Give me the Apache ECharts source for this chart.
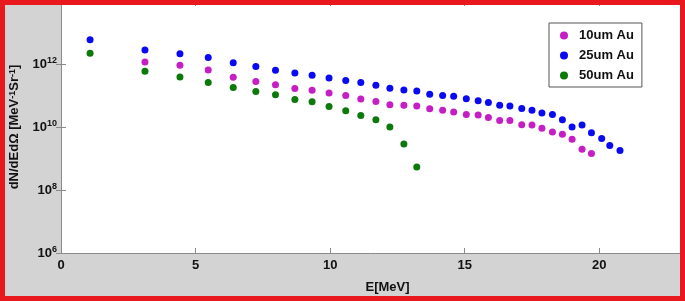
<!DOCTYPE html>
<html>
<head>
<meta charset="utf-8">
<script src="https://cdn.jsdelivr.net/npm/echarts@6/dist/echarts.min.js"></script>
<style>
    html,body{margin:0;padding:0;background:#d3d3d3;}
    .wrap{position:relative;width:685px;height:301px;}
    #chart{position:absolute;left:0;top:0;width:685px;height:301px;}
    .frame{position:absolute;left:0;top:0;width:685px;height:301px;box-sizing:border-box;border:5px solid #e8181e;pointer-events:none;}
</style>
</head>
<body>
<div class="wrap">
    <div id="chart"></div>
    <div class="frame"></div>
</div>
<script>
    // energy bins (MeV) shared by all three targets
    const energy = [1.08,3.12,4.42,5.47,6.40,7.24,7.97,8.69,9.33,9.96,10.58,11.14,11.70,12.22,12.74,13.22,
        13.70,14.18,14.59,15.06,15.50,15.88,16.30,16.68,17.12,17.50,17.87,18.26,18.63,18.99,19.36,19.71,
        20.09,20.39,20.77]
    const au10 = [null,1.15e12,9.1e11,6.5e11,3.8e11,2.8e11,2.2e11,1.66e11,1.48e11,1.2e11,1.0e11,7.8e10,6.5e10,5.1e10,4.9e10,4.6e10,
        3.8e10,3.4e10,3.0e10,2.5e10,2.4e10,2.0e10,1.6e10,1.6e10,1.17e10,1.15e10,9.1e9,6.9e9,5.9e9,4.1e9,1.95e9,1.45e9]
    const au25 = [5.9e12,2.8e12,2.1e12,1.6e12,1.1e12,8.3e11,6.3e11,5.2e11,4.4e11,3.6e11,3.0e11,2.6e11,2.1e11,1.7e11,1.5e11,1.4e11,
        1.1e11,1.0e11,9.5e10,7.9e10,6.8e10,6.0e10,4.9e10,4.6e10,3.9e10,3.4e10,2.8e10,2.5e10,1.7e10,1.0e10,1.15e10,6.6e9,
        4.3e9,2.6e9,1.8e9]
    const au50 = [2.2e12,5.9e11,3.9e11,2.6e11,1.8e11,1.35e11,1.05e11,7.4e10,6.3e10,4.5e10,3.3e10,2.3e10,1.7e10,1.0e10,2.9e9,5.4e8]
    const names = ['10um Au','25um Au','50um Au']
    const colors = ['#c41ec4','#0a0af2','#0b7a0b']
    const xTicks = [0,5,10,15,20]

    function pairs(vals){
        const out = []
        vals.forEach((v,i) => { if(v != null) out.push([energy[i],v]) })
        return out
    }

    const font = 'Liberation Sans, Arial, sans-serif'
    const axisColor = '#8a8a8a'
    const labelRich = {
        b:{fontSize:13,fontWeight:'bold',fontFamily:font,color:'#111',lineHeight:15},
        s:{fontSize:9,fontWeight:'bold',fontFamily:font,color:'#111',verticalAlign:'top',lineHeight:6}
    }
    function yLabel(v){
        const e = Math.round(Math.log10(v))
        if(e >= 14) return ''
        return '{b|10}{s|' + e + '}'
    }

    const chartInstance = echarts.init(document.getElementById('chart'))
    const option = {
        animation:false,
        backgroundColor:'#d3d3d3',
        grid:{
            left:61,
            right:5,
            top:1,
            bottom:48,
            show:true,
            backgroundColor:'#fff',
            borderWidth:0
        },
        legend:{
            orient:'vertical',
            left:549,
            top:23,
            width:93,
            backgroundColor:'#fff',
            borderColor:'#555',
            borderWidth:1,
            borderRadius:0,
            padding:[6,8,5,11],
            itemGap:7,
            itemWidth:14,
            itemHeight:8,
            icon:'circle',
            data:names,
            textStyle:{fontFamily:font,fontSize:13,fontWeight:'bold',color:'#111',padding:[0,0,0,3]}
        },
        xAxis:[
            {
                type:'value',
                min:0,
                max:23,
                interval:5,
                name:'E[MeV]',
                nameLocation:'middle',
                nameGap:28,
                nameTextStyle:{fontFamily:font,fontSize:13,fontWeight:'bold',color:'#111',padding:[0,0,0,34]},
                axisLine:{show:true,lineStyle:{color:axisColor}},
                axisTick:{show:true,inside:true,length:5,lineStyle:{color:axisColor}},
                splitLine:{show:false},
                axisLabel:{
                    margin:6,
                    fontFamily:font,fontSize:13,fontWeight:'bold',color:'#111',
                    formatter:(v) => xTicks.includes(v) ? String(v) : ''
                }
            },
            {
                type:'value',
                position:'top',
                min:0,
                max:23,
                interval:5,
                axisLine:{show:true,lineStyle:{color:axisColor}},
                axisTick:{show:true,inside:true,length:5,lineStyle:{color:axisColor}},
                splitLine:{show:false},
                axisLabel:{show:false}
            }
        ],
        yAxis:[
            {
                type:'log',
                logBase:100,
                min:1e6,
                max:1e14,
                name:'dN/dEdΩ [MeV{s|-1}Sr{s|-1}]',
                nameLocation:'middle',
                nameGap:40,
                nameTextStyle:{fontFamily:font,fontSize:13,fontWeight:'bold',color:'#111',rich:labelRich},
                axisLine:{show:true,lineStyle:{color:axisColor}},
                axisTick:{show:true,inside:true,length:5,lineStyle:{color:axisColor}},
                splitLine:{show:false},
                axisLabel:{margin:4,formatter:yLabel,rich:labelRich}
            },
            {
                type:'log',
                logBase:100,
                min:1e6,
                max:1e14,
                position:'right',
                axisLine:{show:true,lineStyle:{color:axisColor}},
                axisTick:{show:true,inside:true,length:5,lineStyle:{color:axisColor}},
                splitLine:{show:false},
                axisLabel:{show:false}
            }
        ],
        series:[au10,au25,au50].map((vals,i) => ({
            name:names[i],
            type:'scatter',
            symbol:'circle',
            symbolSize:7,
            itemStyle:{color:colors[i],opacity:1},
            data:pairs(vals)
        }))
    }
    chartInstance.setOption(option)
</script>
</body>
</html>
